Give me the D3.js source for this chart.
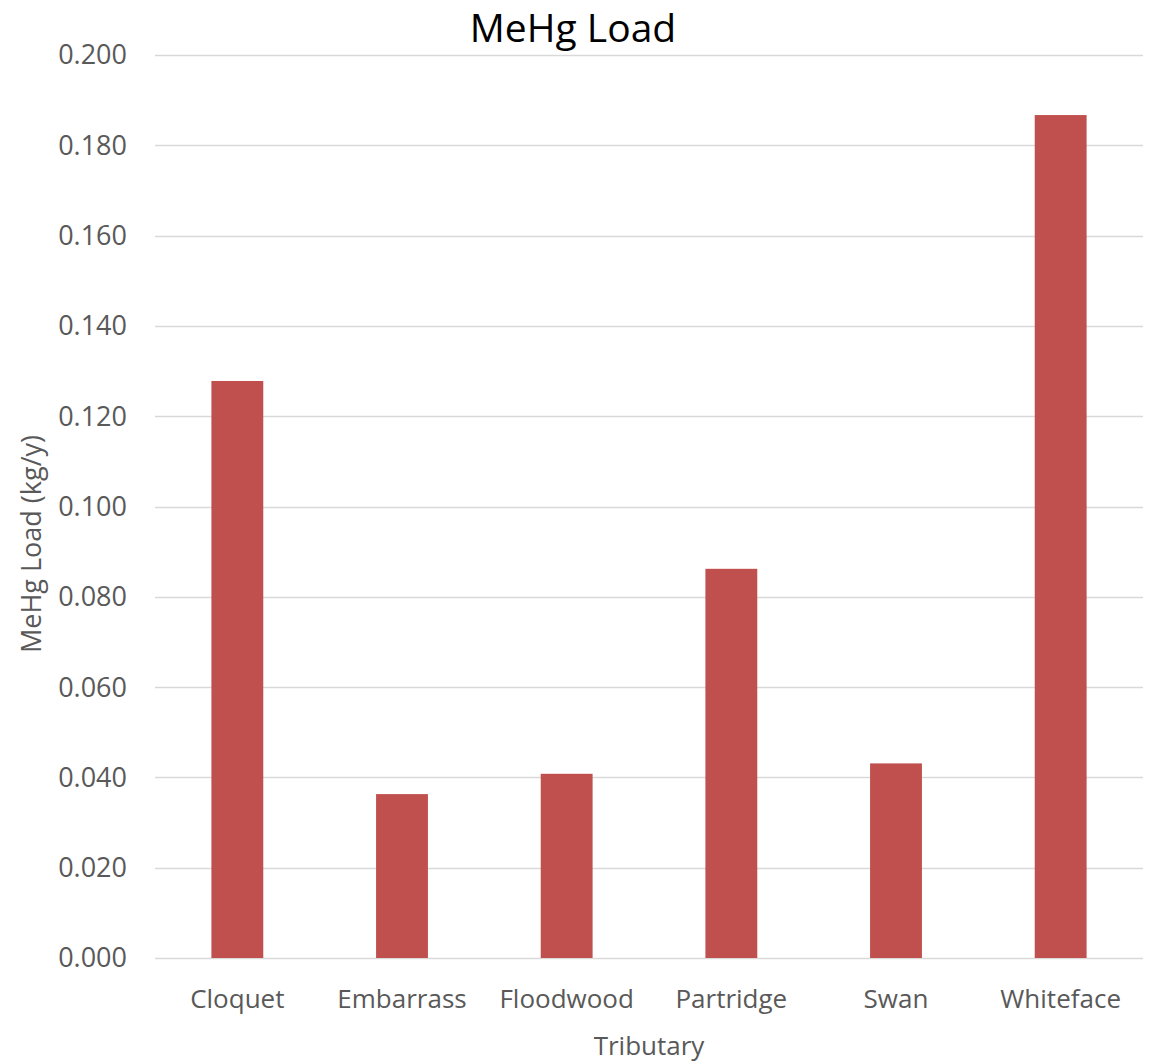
<!DOCTYPE html>
<html>
<head>
<meta charset="utf-8">
<script src="https://cdn.jsdelivr.net/npm/d3@7"></script>
<style>
  html, body { margin: 0; padding: 0; background: #fff; }
  svg { display: block; font-family: "Open Sans", "Noto Sans", sans-serif; }
</style>
</head>
<body>
<svg id="chart" width="1150" height="1062"></svg>
<script>
// Tributary MeHg loads (kg/y)
const categories = ["Cloquet", "Embarrass", "Floodwood", "Partridge", "Swan", "Whiteface"];
const loads = [0.1278, 0.0363, 0.0408, 0.0862, 0.0431, 0.1867];
const yTicks = [0, 0.02, 0.04, 0.06, 0.08, 0.10, 0.12, 0.14, 0.16, 0.18, 0.20];

const svg = d3.select("#chart");
const plot = { left: 155, right: 1143, top: 55, bottom: 958 };

const x = d3.scaleBand()
  .domain(categories)
  .range([plot.left, plot.right])
  .paddingInner(0.685)
  .paddingOuter(0.3425);

const y = d3.scaleLinear()
  .domain([0, 0.2])
  .range([plot.bottom, plot.top]);

// Horizontal gridlines
svg.append("g")
  .selectAll("line")
  .data(yTicks)
  .join("line")
  .attr("x1", plot.left)
  .attr("x2", plot.right)
  .attr("y1", d => Math.round(y(d)) + 0.5)
  .attr("y2", d => Math.round(y(d)) + 0.5)
  .attr("stroke", "#d9d9d9")
  .attr("stroke-width", 1.5);

// Y tick labels
svg.append("g")
  .selectAll("text")
  .data(yTicks)
  .join("text")
  .attr("x", 127)
  .attr("y", d => y(d))
  .attr("dy", "0.35em")
  .attr("text-anchor", "end")
  .attr("font-size", 27)
  .attr("fill", "#595959")
  .text(d => d3.format(".3f")(d));

// Bars
svg.append("g")
  .selectAll("rect")
  .data(categories.map((c, i) => ({ c, v: loads[i] })))
  .join("rect")
  .attr("x", d => x(d.c))
  .attr("width", x.bandwidth())
  .attr("y", d => y(d.v))
  .attr("height", d => y(0) - y(d.v))
  .attr("fill", "#c0504d");

// Category labels
svg.append("g")
  .selectAll("text")
  .data(categories)
  .join("text")
  .attr("x", d => x(d) + x.bandwidth() / 2)
  .attr("y", 1008)
  .attr("text-anchor", "middle")
  .attr("font-size", 26)
  .attr("fill", "#595959")
  .text(d => d);

// Chart title
svg.append("text")
  .attr("x", 573)
  .attr("y", 42)
  .attr("text-anchor", "middle")
  .attr("font-size", 39)
  .attr("fill", "#000")
  .text("MeHg Load");

// Axis titles
svg.append("text")
  .attr("x", (plot.left + plot.right) / 2)
  .attr("y", 1055)
  .attr("text-anchor", "middle")
  .attr("font-size", 26)
  .attr("fill", "#595959")
  .text("Tributary");

svg.append("text")
  .attr("transform", "translate(41,544) rotate(-90)")
  .attr("text-anchor", "middle")
  .attr("font-size", 27)
  .attr("fill", "#595959")
  .text("MeHg Load (kg/y)");
</script>
</body>
</html>
